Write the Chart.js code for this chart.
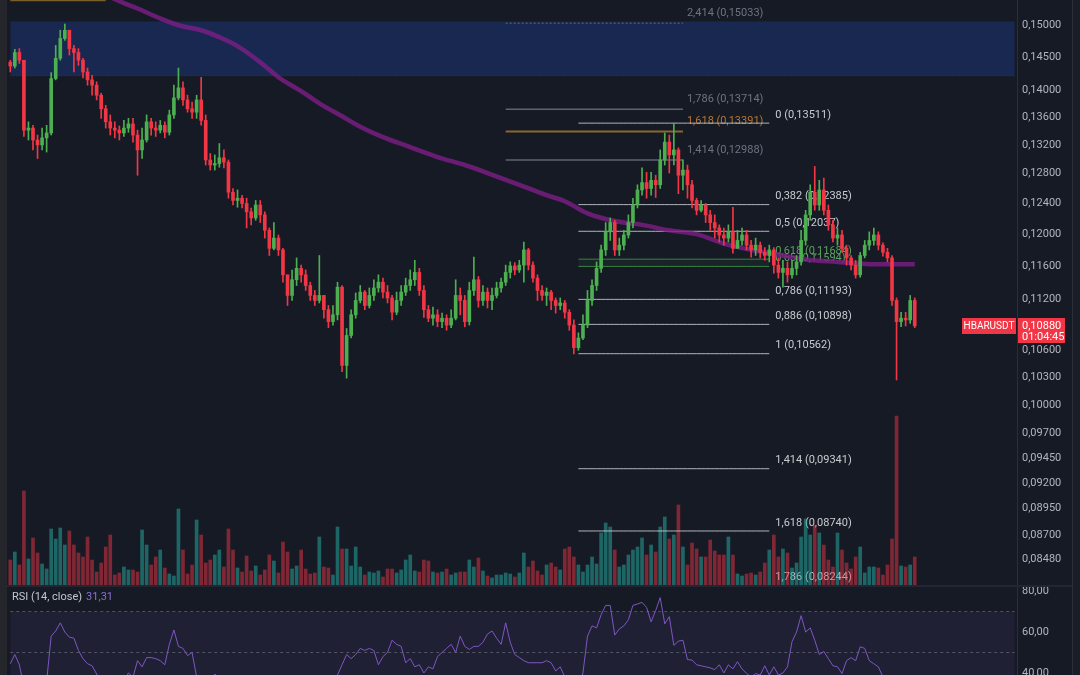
<!DOCTYPE html>
<html>
<head>
<meta charset="utf-8">
<script src="https://cdn.jsdelivr.net/npm/chart.js@4.4.1/dist/chart.umd.min.js"></script>
<style>
  html, body { margin: 0; padding: 0; width: 1080px; height: 675px; overflow: hidden; background: #161a25; font-family: Roboto, 'Noto Sans', sans-serif; }
  #main { position: absolute; left: 0; top: 0; }
  #rsi { position: absolute; left: 0; top: 587px; }
  .strip-l { position: absolute; left: 0; top: 0; width: 7px; height: 675px; background: #24262b; }
  .strip-r { position: absolute; left: 1072px; top: 0; width: 8px; height: 675px; background: #1b1e26; border-left: 1px solid #2a2e39; box-sizing: border-box; }
  .sep { position: absolute; left: 7px; top: 585px; width: 1065px; height: 2px; background: #232632; }
  .rsi-title { position: absolute; left: 12px; top: 590px; font-size: 11px; line-height: 14px; color: #c4c7ce; }
  .rsi-title span { color: #8e6fd6; margin-left: 4px; }
</style>
</head>
<body>
<canvas id="main" width="1072" height="585"></canvas>
<div class="sep"></div>
<canvas id="rsi" width="1072" height="88"></canvas>
<div class="strip-l"></div>
<div class="strip-r"></div>
<div class="rsi-title">RSI (14, close)<span>31,31</span></div>
<script>
// HBARUSDT candles
const firstOpen = 0.1442;
const closes = [
  .1436,.1457,.1445,.1341,.1344,.1327,.1320,.1330,.1337,.1417,
  .1448,.1479,.1492,.1463,.1457,.1445,.1427,.1415,.1407,.1392,
  .1372,.1353,.1344,.1341,.1337,.1344,.1350,.1334,.1313,.1327,
  .1353,.1344,.1341,.1348,.1338,.1363,.1388,.1403,.1385,.1372,
  .1367,.1385,.1355,.1299,.1292,.1294,.1302,.1296,.1255,.1244,
  .1247,.1240,.1229,.1221,.1238,.1225,.1205,.1182,.1195,.1180,
  .1149,.1124,.1143,.1157,.1149,.1136,.1124,.1118,.1124,.1107,
  .1093,.1101,.1134,.1043,.1077,.1101,.1118,.1128,.1112,.1124,
  .1133,.1140,.1128,.1121,.1104,.1118,.1128,.1136,.1143,.1152,
  .1130,.1107,.1097,.1101,.1093,.1097,.1089,.1097,.1124,.1118,
  .1093,.1130,.1143,.1118,.1128,.1118,.1124,.1133,.1140,.1152,
  .1160,.1155,.1161,.1180,.1161,.1145,.1130,.1124,.1128,.1118,
  .1112,.1115,.1104,.1089,.1063,.1074,.1089,.1118,.1136,.1157,
  .1180,.1203,.1215,.1180,.1186,.1199,.1215,.1238,.1258,.1268,
  .1260,.1271,.1265,.1299,.1324,.1306,.1313,.1278,.1285,.1265,
  .1244,.1231,.1238,.1225,.1215,.1208,.1199,.1195,.1203,.1182,
  .1192,.1199,.1186,.1180,.1186,.1177,.1173,.1180,.1161,.1152,
  .1157,.1149,.1157,.1165,.1192,.1225,.1255,.1238,.1258,.1231,
  .1212,.1195,.1199,.1182,.1170,.1161,.1149,.1173,.1186,.1192,
  .1199,.1186,.1177,.1170,.1118,.1093,.1097,.1095,.1118,.1088
];
const highs = [
  .1445,.1462,.1463,.1445,.1353,.1348,.1334,.1344,.1348,.1426,
  .1468,.1492,.1502,.1489,.1468,.1463,.1448,.1433,.1422,.1412,
  .1395,.1377,.1363,.1353,.1347,.1355,.1358,.1358,.1341,.1344,
  .1363,.1358,.1353,.1355,.1353,.1370,.1407,.1433,.1412,.1392,
  .1382,.1392,.1419,.1363,.1308,.1306,.1322,.1313,.1299,.1260,
  .1258,.1251,.1247,.1234,.1244,.1244,.1229,.1208,.1215,.1199,
  .1182,.1149,.1155,.1170,.1161,.1155,.1140,.1130,.1173,.1124,
  .1112,.1112,.1140,.1136,.1085,.1107,.1127,.1136,.1130,.1133,
  .1143,.1149,.1145,.1136,.1124,.1128,.1136,.1145,.1155,.1167,
  .1157,.1136,.1112,.1110,.1107,.1103,.1101,.1107,.1143,.1133,
  .1124,.1140,.1171,.1147,.1136,.1133,.1133,.1140,.1145,.1161,
  .1165,.1164,.1167,.1190,.1182,.1165,.1149,.1136,.1133,.1130,
  .1121,.1121,.1118,.1107,.1095,.1080,.1101,.1130,.1143,.1165,
  .1186,.1215,.1221,.1218,.1195,.1205,.1225,.1247,.1265,.1288,
  .1282,.1282,.1278,.1313,.1337,.1334,.1351,.1316,.1299,.1292,
  .1271,.1247,.1244,.1240,.1231,.1225,.1212,.1208,.1212,.1235,
  .1205,.1208,.1205,.1192,.1195,.1190,.1183,.1186,.1183,.1170,
  .1167,.1165,.1167,.1173,.1205,.1231,.1265,.1290,.1271,.1274,
  .1238,.1218,.1208,.1205,.1186,.1173,.1167,.1177,.1192,.1203,
  .1208,.1203,.1189,.1182,.1173,.1121,.1104,.1104,.1124,.1121
];
const lows = [
  .1427,.1433,.1440,.1332,.1327,.1313,.1301,.1313,.1310,.1334,
  .1415,.1445,.1476,.1453,.1427,.1437,.1418,.1407,.1392,.1385,
  .1358,.1344,.1334,.1330,.1327,.1332,.1338,.1324,.1278,.1301,
  .1324,.1334,.1332,.1337,.1330,.1334,.1358,.1385,.1377,.1367,
  .1358,.1358,.1348,.1292,.1285,.1285,.1289,.1288,.1247,.1238,
  .1235,.1234,.1208,.1212,.1218,.1215,.1195,.1173,.1180,.1173,
  .1140,.1112,.1118,.1136,.1140,.1130,.1118,.1112,.1115,.1097,
  .1086,.1089,.1095,.1036,.1029,.1074,.1097,.1115,.1107,.1109,
  .1118,.1128,.1121,.1115,.1095,.1101,.1112,.1124,.1130,.1136,
  .1124,.1098,.1093,.1089,.1087,.1086,.1083,.1086,.1095,.1101,
  .1087,.1089,.1124,.1110,.1112,.1109,.1107,.1121,.1128,.1136,
  .1145,.1149,.1152,.1140,.1155,.1140,.1118,.1118,.1112,.1107,
  .1103,.1107,.1097,.1083,.1056,.1060,.1072,.1086,.1112,.1130,
  .1152,.1173,.1192,.1173,.1173,.1180,.1195,.1208,.1234,.1251,
  .1247,.1251,.1248,.1260,.1292,.1281,.1292,.1253,.1258,.1247,
  .1234,.1225,.1229,.1215,.1205,.1195,.1190,.1186,.1190,.1176,
  .1183,.1186,.1180,.1171,.1173,.1170,.1167,.1165,.1151,.1145,
  .1134,.1140,.1145,.1149,.1161,.1186,.1218,.1231,.1231,.1225,
  .1205,.1190,.1186,.1177,.1161,.1155,.1145,.1146,.1170,.1180,
  .1186,.1180,.1172,.1165,.1112,.1027,.1087,.1088,.1091,.1086
];
// volume, millions
const vols = [
  25,33,20,94,26,47,32,21,16,56,
  46,57,40,54,40,32,28,48,25,13,
  22,38,50,10,12,18,15,15,13,55,
  40,20,28,35,17,11,9,76,35,11,
  20,65,50,22,25,30,35,18,56,35,
  17,13,29,14,19,10,15,30,24,12,
  43,33,16,19,35,16,11,12,48,18,
  17,10,58,36,36,19,38,18,10,13,
  12,14,8,16,16,12,15,25,30,14,
  13,25,24,13,12,13,16,10,12,13,
  13,25,18,27,14,9,7,10,10,12,
  11,8,12,32,18,24,14,10,20,22,
  18,15,36,38,28,20,13,20,28,21,
  52,62,58,35,18,20,30,35,38,47,
  30,40,33,58,68,46,50,80,38,20,
  42,36,28,28,45,34,30,30,48,30,
  11,9,11,12,10,13,22,35,50,28,
  36,32,17,22,48,66,50,60,52,40,
  25,18,52,35,22,16,28,38,12,18,
  18,17,10,20,46,169,19,18,20,28
];
const rsi = [
  44.5,49,44,33,32,30,29,32,36,58,
  60.5,64.5,60,57.5,57,51,47,44.5,43.5,39.5,
  35,31,30,30,31,36,40,38,46,43,
  47.5,47.5,47,46,44,54,61,53,52,48.5,
  50,38,34,30,31,39.5,37,33,28,27,
  29,28,26,25,30,28,25,23,28,26,
  22,20,26,30,28,26,24,24,27,25,
  23,27,39,44,49,47,49,52,51,52,
  51,44,48,50,56,54,53,45,47,43,
  44,40,43,42,48,50,52,54,50,58,
  53,51.5,53,53,55,59,60.5,57,54,64.5,
  55,49,47.5,46,45,45,45,45,46,45,
  41,43,38,34,30,33,40,58,63,62,
  68.5,73,73,58.5,61.5,63,66,73,73.7,74.5,
  72,65,70.5,76.8,64,67.5,53.5,55.5,56,46.5,
  46.3,44,43.5,43,42.5,41.6,44,40,44,42,
  45.5,42,39.8,38,39.7,39,43.5,39,43,39,
  40,43,55.3,60,68,60,62,56,49,50.5,
  47,43.5,43,39.7,46,47.5,46,52.8,52,46,
  44.5,43,38,37,33,28,29,30,34,31.31
];
// long moving average, sampled at these candles
const maIdx = [20,24,28,33,37,42,46,50,55,59,64,68,73,77,82,88,94,100,105,112,118,122,127,133,139,145,151,157,163,169,175,182,190,199];
const maVal = [0.1553,0.1539,0.1527,0.1511,0.1500,0.1492,0.1481,0.1467,0.1442,0.1419,0.1398,0.1380,0.1361,0.1346,0.1331,0.1317,0.1303,0.1292,0.1281,0.1265,0.1251,0.1243,0.1227,0.1217,0.1212,0.1205,0.1200,0.1188,0.1180,0.1174,0.1168,0.1165,0.1162,0.1162];

const fibRatios = ['0','0,382','0,5','0,618','0,65','0,786','0,886','1','1,414','1,618','1,786'];
const fibPrices = [0.13511,0.12385,0.12037,0.11684,0.11594,0.11193,0.10898,0.10562,0.09341,0.08740,0.08244];
const extRatios = ['2,414','1,786','1,618','1,414'];
const extPrices = [0.15033,0.13714,0.13391,0.12988];
const zone = [0.1421, 0.1506];
const priceTicks = [0.15,0.145,0.14,0.136,0.132,0.128,0.124,0.12,0.116,0.112,0.106,0.103,0.10,0.097,0.0945,0.092,0.0895,0.087,0.0848];
const rsiTicks = [40, 60, 80];
const rsiLevels = [70, 50, 30];

const FIB_A = 125, FIB_B = 167, EXT_A = 109, EXT_B = 148;
const N = closes.length, PAD = 22;
const bars = Array.from({ length: N + PAD }, (_, i) => i);
const padTo = arr => bars.map(i => i < arr.length ? arr[i] : null);
const seg = (a, b, v) => bars.map(i => (i >= a && i <= b) ? v : null);
const fmt = (v, d) => v.toFixed(d).replace('.', ',');
const FONT = '11px Roboto, "Noto Sans", sans-serif';

const opens = closes.map((c, i) => i ? closes[i - 1] : firstOpen);
const isUp = closes.map((c, i) => c >= opens[i]);
const candleCol = isUp.map(u => u ? '#4caf50' : '#f23645');
const volCol = isUp.map(u => u ? 'rgba(38,166,154,0.55)' : 'rgba(242,54,69,0.48)');
const maData = bars.map(() => null);
maIdx.forEach((k, j) => { maData[k] = maVal[j]; });

const fibSets = fibPrices.map((p, k) => ({
  type: 'line', data: seg(FIB_A, FIB_B, p), pointRadius: 0, borderWidth: 1, order: 10,
  borderColor: (k === 3 || k === 4) ? 'rgba(76,175,80,0.7)' : 'rgba(205,207,213,0.85)',
  fill: k === 4 ? '-1' : false, backgroundColor: 'rgba(76,175,80,0.07)'
}));
const extSets = extPrices.map((p, k) => ({
  type: 'line', data: seg(EXT_A, EXT_B, p), pointRadius: 0, order: 10,
  borderWidth: k === 2 ? 2 : 1.5, borderDash: k === 0 ? [2, 2] : [],
  borderColor: k === 2 ? '#8a6630' : (k === 0 ? '#4f5566' : '#5f6270')
}));

// right axis: fixed width, no tick marks, no label overhang padding
const axisFit = s => { s.width = 55; s.paddingTop = 0; s.paddingBottom = 0; };

const fibLabels = {
  id: 'fibLabels',
  beforeDatasetsDraw(chart) {
    const { ctx, scales: { x, y } } = chart;
    ctx.save();
    ctx.font = FONT;
    ctx.textBaseline = 'middle';
    fibRatios.forEach((r, k) => {
      ctx.fillStyle = (k === 3 || k === 4) ? '#5aa35d' : '#c9cbd1';
      ctx.fillText(r + ' (' + fmt(fibPrices[k], 5) + ')', x.getPixelForValue(FIB_B) + 6, y.getPixelForValue(fibPrices[k]) - 8);
    });
    extRatios.forEach((r, k) => {
      ctx.fillStyle = k === 2 ? '#b8742c' : '#6f7280';
      ctx.fillText(r + ' (' + fmt(extPrices[k], 5) + ')', x.getPixelForValue(EXT_B) + 4, y.getPixelForValue(extPrices[k]) - 10);
    });
    ctx.restore();
  }
};
const priceTag = {
  id: 'priceTag',
  afterDraw(chart) {
    const { ctx, chartArea, scales: { y } } = chart;
    const py = Math.round(y.getPixelForValue(closes[N - 1]));
    const r = chartArea.right;
    ctx.save();
    ctx.fillStyle = '#f23645';
    ctx.fillRect(r + 1, py - 8, 47, 25);
    ctx.fillRect(r - 55, py - 8, 54, 16);
    ctx.fillStyle = '#ffffff';
    ctx.textBaseline = 'middle';
    ctx.font = '10px Roboto, "Noto Sans", sans-serif';
    ctx.textAlign = 'center';
    ctx.fillText('HBARUSDT', r - 28, py);
    ctx.font = FONT;
    ctx.textAlign = 'left';
    ctx.fillText(fmt(closes[N - 1], 5), r + 5, py);
    ctx.fillText('01:04:45', r + 5, py + 11);
    ctx.restore();
  }
};

new Chart(document.getElementById('main'), {
  type: 'bar',
  data: {
    labels: bars,
    datasets: [
      { type: 'line', data: bars.map(() => zone[1]), borderWidth: 0, pointRadius: 0, fill: false, order: 20 },
      { type: 'line', data: bars.map(() => zone[0]), borderWidth: 1, borderColor: 'rgba(60,70,100,0.5)', borderDash: [1, 2], pointRadius: 0, fill: '-1', backgroundColor: 'rgba(41,98,255,0.2)', order: 19 },
      { data: padTo(vols), yAxisID: 'yv', backgroundColor: volCol, barThickness: 3, grouped: false, order: 15 },
      { type: 'line', data: seg(0, 21, 0.15400), borderColor: '#7a5f2c', borderWidth: 1.5, pointRadius: 0, order: 14 },
      ...extSets,
      ...fibSets,
      { type: 'line', data: maData, spanGaps: true, cubicInterpolationMode: 'monotone', borderColor: 'rgba(125,30,135,0.8)', borderWidth: 4.5, pointRadius: 0, order: 5 },
      { data: closes.map((c, i) => [Math.min(lows[i], opens[i], c), Math.max(highs[i], opens[i], c)]), backgroundColor: candleCol, barThickness: 1, grouped: false, order: 2 },
      { data: closes.map((c, i) => [opens[i], c]), backgroundColor: candleCol, barThickness: 3, minBarLength: 1, grouped: false, order: 1 }
    ]
  },
  options: {
    responsive: false, animation: false, devicePixelRatio: 1, events: [],
    layout: { padding: { left: 8, right: 0, top: 0, bottom: 0 } },
    plugins: { legend: { display: false }, tooltip: { enabled: false } },
    scales: {
      x: { display: false, offset: true },
      y: {
        type: 'logarithmic', position: 'right', min: 0.0825, max: 0.1541,
        afterBuildTicks: s => { s.ticks = priceTicks.map(v => ({ value: v })); },
        afterFit: axisFit,
        grid: { display: false, drawTicks: false, tickLength: 0 }, border: { color: '#2a2e39' },
        ticks: { color: '#b2b5be', font: { size: 11, family: 'Roboto' }, padding: 5, autoSkip: false, callback: v => fmt(v, 5) }
      },
      yv: { display: false, min: 0, max: 585 }
    }
  },
  plugins: [fibLabels, priceTag]
});

new Chart(document.getElementById('rsi'), {
  type: 'line',
  data: {
    labels: bars,
    datasets: [
      { data: bars.map(() => rsiLevels[0]), borderColor: 'rgba(120,123,134,0.6)', borderDash: [3, 3], borderWidth: 1, pointRadius: 0, order: 3 },
      { data: bars.map(() => rsiLevels[2]), borderWidth: 0, pointRadius: 0, fill: '-1', backgroundColor: 'rgba(126,87,194,0.1)', order: 4 },
      { data: bars.map(() => rsiLevels[1]), borderColor: 'rgba(120,123,134,0.6)', borderDash: [3, 3], borderWidth: 1, pointRadius: 0, order: 2 },
      { data: padTo(rsi), borderColor: '#7e57c2', borderWidth: 1, pointRadius: 0, order: 1 }
    ]
  },
  options: {
    responsive: false, animation: false, devicePixelRatio: 1, events: [],
    layout: { padding: { left: 8, right: 0, top: 0, bottom: 0 } },
    plugins: { legend: { display: false }, tooltip: { enabled: false } },
    scales: {
      x: { display: false, offset: true },
      y: {
        position: 'right', min: 39, max: 82,
        afterBuildTicks: s => { s.ticks = rsiTicks.map(v => ({ value: v })); },
        afterFit: axisFit,
        grid: { display: false, drawTicks: false, tickLength: 0 }, border: { color: '#2a2e39' },
        ticks: { color: '#b2b5be', font: { size: 11, family: 'Roboto' }, padding: 5, autoSkip: false, callback: v => fmt(v, 2) }
      }
    }
  }
});
</script>
</body>
</html>
